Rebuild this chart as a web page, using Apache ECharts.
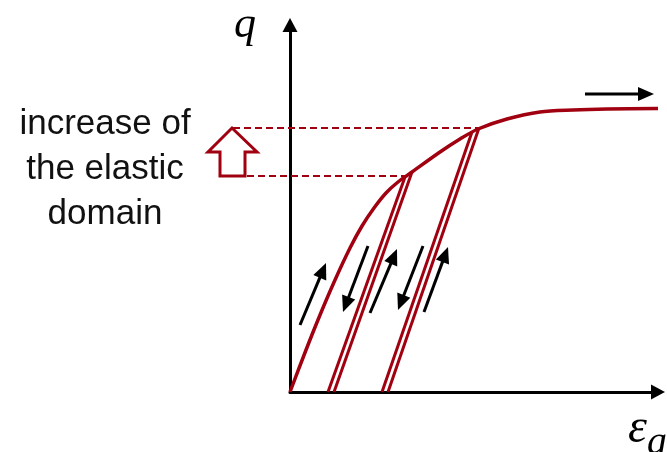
<!DOCTYPE html>
<html>
<head>
<meta charset="utf-8">
<script src="https://cdn.jsdelivr.net/npm/echarts@6/dist/echarts.min.js"></script>
<style>
  html, body { margin: 0; padding: 0; background: #fff; }
  #chart { width: 667px; height: 452px; }
</style>
</head>
<body>
<div id="chart"></div>
<script>
// Hardening curve q(ε_a), in plot units
const hardeningCurve = [
  [0, 0], [16, 42], [30, 77], [45, 112], [60, 144], [72, 166], [84, 184],
  [96, 199], [108, 210], [122, 220], [150, 240], [170, 253], [188, 263],
  [217, 273], [250, 280], [283, 282], [317, 283], [368, 283.5]
];
// Unloading / reloading branches, each one drawn as a pair of lines
const reloadLines = [
  [[38, 0], [115, 215]], [[44, 0], [122, 220]],
  [[92, 0], [182, 260]], [[98, 0], [189, 264]]
];
// Yield stress reached before each unloading
const yieldLevels = [
  { q: 216, from: -43, to: 115 },
  { q: 264, from: -57, to: 188 }
];
// Hollow up arrow: growth of the elastic domain
const domainArrow = [[-58, 264], [-33, 240], [-45, 240], [-45, 216], [-70, 216], [-70, 240], [-82, 240]];
// Loading direction arrows, [tail, tip]
const pathArrows = [
  [[10, 67], [36, 129]],
  [[78, 146], [53, 80]],
  [[80, 79], [107, 143]],
  [[133, 146], [108, 82]],
  [[134, 80], [158, 145]],
  [[295, 298], [364, 298]]
];
const annotationText = 'increase of\nthe elastic\ndomain';

const RED = '#a0000f';

function renderAnnotations(params, api) {
  const children = [];
  yieldLevels.forEach(function (l) {
    const a = api.coord([l.from, l.q]);
    const b = api.coord([l.to, l.q]);
    children.push({
      type: 'line',
      shape: { x1: a[0], y1: a[1], x2: b[0], y2: b[1] },
      style: { stroke: RED, lineWidth: 2, lineDash: [7, 4] }
    });
  });
  children.push({
    type: 'polygon',
    shape: { points: domainArrow.map(function (p) { return api.coord(p); }) },
    style: { fill: '#fff', stroke: RED, lineWidth: 3, lineJoin: 'miter' }
  });
  pathArrows.forEach(function (arr) {
    const p0 = api.coord(arr[0]);
    const p1 = api.coord(arr[1]);
    const dx = p1[0] - p0[0], dy = p1[1] - p0[1];
    const len = Math.hypot(dx, dy);
    const ux = dx / len, uy = dy / len;
    const hl = 16, hw = 7;
    const bx = p1[0] - ux * hl, by = p1[1] - uy * hl;
    children.push({
      type: 'line',
      shape: { x1: p0[0], y1: p0[1], x2: bx + ux * 2, y2: by + uy * 2 },
      style: { stroke: '#000', lineWidth: 3 }
    });
    children.push({
      type: 'polygon',
      shape: { points: [p1, [bx - uy * hw, by + ux * hw], [bx + uy * hw, by - ux * hw]] },
      style: { fill: '#000' }
    });
  });
  return { type: 'group', children: children };
}

const chart = echarts.init(document.getElementById('chart'), null, { renderer: 'canvas' });

const series = [
  {
    type: 'custom',
    renderItem: renderAnnotations,
    data: [[0, 0]],
    clip: false,
    silent: true,
    z: 1
  },
  {
    type: 'line',
    data: hardeningCurve,
    smooth: 0.3,
    showSymbol: false,
    lineStyle: { color: RED, width: 3.5 },
    z: 3
  }
].concat(reloadLines.map(function (seg) {
  return {
    type: 'line',
    data: seg,
    showSymbol: false,
    lineStyle: { color: RED, width: 3 },
    z: 3
  };
}));

chart.setOption({
  animation: false,
  backgroundColor: '#fff',
  title: {
    text: annotationText,
    left: 105,
    top: 102,
    padding: 0,
    textAlign: 'center',
    textStyle: {
      fontFamily: 'Liberation Sans',
      fontSize: 35,
      fontWeight: 'normal',
      color: '#111',
      lineHeight: 45
    }
  },
  grid: { left: 290, right: 9, top: 25, bottom: 60, containLabel: false, outerBoundsMode: 'none' },
  xAxis: {
    type: 'value',
    min: 0,
    max: 368,
    axisLine: {
      onZero: false,
      lineStyle: { color: '#000', width: 3 },
      symbol: ['none', 'triangle'],
      symbolSize: [15, 14]
    },
    axisTick: { show: false },
    axisLabel: { show: false },
    splitLine: { show: false },
    name: '{e|ε}{s|a}',
    nameLocation: 'end',
    nameGap: -30,
    nameTextStyle: {
      align: 'left',
      verticalAlign: 'top',
      padding: [12, 0, 0, 0],
      rich: {
        e: { fontFamily: 'Liberation Serif', fontStyle: 'italic', fontSize: 48, color: '#000', lineHeight: 50 },
        s: { fontFamily: 'Liberation Serif', fontStyle: 'italic', fontSize: 40, color: '#000', lineHeight: 40, padding: [28, 0, 0, 0] }
      }
    }
  },
  yAxis: {
    type: 'value',
    min: 0,
    max: 367,
    axisLine: {
      onZero: false,
      lineStyle: { color: '#000', width: 3 },
      symbol: ['none', 'triangle'],
      symbolSize: [15, 14]
    },
    axisTick: { show: false },
    axisLabel: { show: false },
    splitLine: { show: false },
    name: 'q',
    nameLocation: 'end',
    nameGap: 0,
    nameTextStyle: {
      fontFamily: 'Liberation Serif',
      fontStyle: 'italic',
      fontSize: 44,
      color: '#000',
      align: 'right',
      verticalAlign: 'middle',
      padding: [0, 34, 0, 0]
    }
  },
  series: series
});
</script>
</body>
</html>
